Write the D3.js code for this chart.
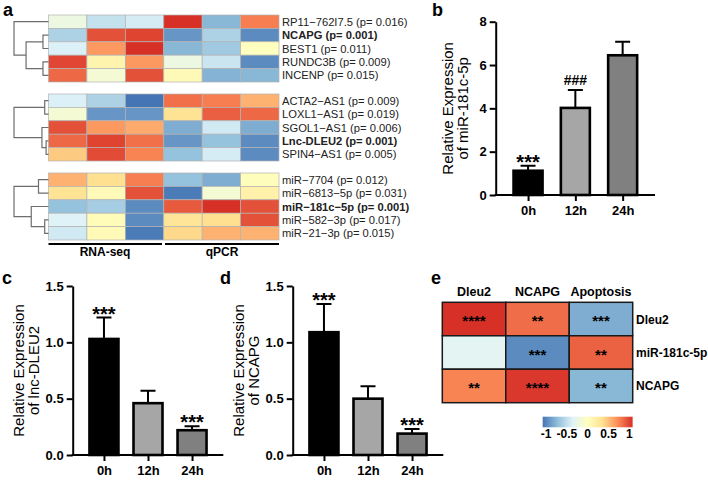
<!DOCTYPE html>
<html>
<head>
<meta charset="utf-8">
<script src="https://cdn.jsdelivr.net/npm/d3@7/dist/d3.min.js"></script>
<style>
  body { margin: 0; background: #fff; }
  text { font-family: "Liberation Sans", Arial, sans-serif; }
</style>
</head>
<body>
<svg id="fig" width="708" height="484"></svg>
<script>
// ---------------- data ----------------
// panel a : three clustered heatmap blocks (3 RNA-seq + 3 qPCR columns)
var heatCols = ["r1", "r2", "r3", "q1", "q2", "q3"];

var mrnaLabels = ["RP11\u2212762I7.5 (p= 0.016)", "NCAPG (p= 0.001)", "BEST1 (p= 0.011)", "RUNDC3B (p= 0.009)", "INCENP (p= 0.015)"];
var mrnaBold = [false, true, false, false, false];
var mrnaValues = [
  [-0.2, -0.45, -0.38, 1.0, -0.7, 0.72],
  [-0.55, 0.88, 0.93, -0.85, -0.55, -0.9],
  [-0.35, 0.62, 1.0, -0.7, -0.6, 0.0],
  [0.92, 0.12, 0.62, -0.2, -0.42, -0.9],
  [0.8, -0.12, 0.88, 0.06, -0.72, -0.7]
];
var mrnaTree = [1.0, 0, [0.65, [0.16, 1, 2], [0.16, 3, 4]]];

var lncLabels = ["ACTA2\u2212AS1 (p= 0.009)", "LOXL1\u2212AS1 (p= 0.019)", "SGOL1\u2212AS1 (p= 0.006)", "Lnc-DLEU2 (p= 0.001)", "SPIN4\u2212AS1 (p= 0.005)"];
var lncBold = [false, false, false, true, false];
var lncValues = [
  [-0.35, -0.55, -1.0, 0.77, 0.72, 0.52],
  [-0.12, -0.85, -0.85, 0.3, 0.83, 0.8],
  [0.88, 0.62, 0.55, -0.75, -0.4, -0.75],
  [0.8, 0.93, 0.77, -0.85, -0.65, -0.9],
  [0.42, 0.9, 0.7, -0.65, -0.38, -0.9]
];
var lncTree = [1.0, [0.11, 0, 1], [0.19, 2, [0.07, 3, 4]]];

var mirLabels = ["miR\u22127704 (p= 0.012)", "miR\u22126813\u22125p (p= 0.031)", "miR\u2212181c\u22125p (p= 0.001)", "miR\u2212582\u22123p (p= 0.017)", "miR\u221221\u22123p (p= 0.015)"];
var mirBold = [false, false, true, false, false];
var mirValues = [
  [0.52, 0.33, 0.72, -0.65, -0.75, 0.02],
  [0.3, 0.05, 0.88, -0.97, -0.12, 0.15],
  [-0.65, -0.58, -0.9, 0.85, 1.0, 0.88],
  [-0.34, 0.04, -0.9, 0.28, 0.33, 0.88],
  [-0.4, 0.05, -0.97, 0.36, 0.52, 0.52]
];
var mirTree = [1.0, [0.29, 0, 1], [0.5, 2, [0.11, 3, 4]]];

// panels b, c, d : bar charts
var timeLabels = ["0h", "12h", "24h"];
var barFills = ["#000000", "#a6a6a6", "#808080"];

var mir181Mean = [1.12, 4.02, 6.45];
var mir181Err = [0.23, 0.83, 0.63];
var mir181Marks = ["***", "###", ""];

var dleu2Mean = [1.03, 0.46, 0.22];
var dleu2Err = [0.19, 0.11, 0.035];
var dleu2Marks = ["***", "", "***"];

var ncapgMean = [1.09, 0.5, 0.19];
var ncapgErr = [0.25, 0.11, 0.04];
var ncapgMarks = ["***", "", "***"];

// panel e : correlation heatmap
var corrRows = ["Dleu2", "miR-181c-5p", "NCAPG"];
var corrCols = ["Dleu2", "NCAPG", "Apoptosis"];
var corrValues = [
  [1.0, 0.78, -0.75],
  [-0.3, -0.9, 0.82],
  [0.7, 0.97, -0.7]
];
var corrStars = [
  ["****", "**", "***"],
  ["", "***", "**"],
  ["**", "****", "**"]
];
var legendTicks = [-1, -0.5, 0, 0.5, 1];

// ---------------- helpers ----------------
var svg = d3.select("#fig");
var palette = ["#4575b4", "#91bfdb", "#e0f3f8", "#ffffbf", "#fee090", "#fc8d59", "#d73027"];
var heatColor = d3.scaleLinear()
  .domain(d3.range(7).map(i => -1 + i / 3))
  .range(palette)
  .clamp(true);

function panelLetter(t, x, y) {
  svg.append("text").attr("x", x).attr("y", y)
    .attr("font-size", 18).attr("font-weight", "bold").text(t);
}

// ---------------- panel a ----------------
var colX = d3.scaleBand().domain(heatCols).range([48.5, 279]);
var treeX = d3.scaleLinear().domain([0, 1]).range([48.5, 14]);

function drawBlock(values, labels, bold, tree, top) {
  var rowY = d3.scaleBand().domain(d3.range(values.length)).range([top, top + 67]);
  var g = svg.append("g");

  values.forEach(function(row, i) {
    g.selectAll(null).data(row).enter().append("rect")
      .attr("x", (d, j) => colX(heatCols[j]))
      .attr("y", rowY(i))
      .attr("width", colX.bandwidth())
      .attr("height", rowY.bandwidth())
      .attr("fill", d => heatColor(d))
      .attr("stroke", "#b3b3b3")
      .attr("stroke-width", 0.7);
  });

  g.selectAll(".rl").data(labels).enter().append("text")
    .attr("x", 282)
    .attr("y", (d, i) => rowY(i) + rowY.bandwidth() / 2 + 4)
    .attr("font-size", 11.2)
    .attr("font-weight", (d, i) => bold[i] ? "bold" : "normal")
    .attr("fill", "#222")
    .text(d => d);

  // dendrogram - returns [x, y] of node
  function walk(node) {
    if (typeof node === "number") {
      return [treeX(0), rowY(node) + rowY.bandwidth() / 2];
    }
    var a = walk(node[1]), b = walk(node[2]);
    var x = treeX(node[0]);
    var path = "M" + a[0] + "," + a[1] + "H" + x + "V" + b[1] + "H" + b[0];
    g.append("path").attr("d", path).attr("fill", "none")
      .attr("stroke", "#6e6e6e").attr("stroke-width", 1.2);
    return [x, (a[1] + b[1]) / 2];
  }
  walk(tree);
}

drawBlock(mrnaValues, mrnaLabels, mrnaBold, mrnaTree, 15);
drawBlock(lncValues, lncLabels, lncBold, lncTree, 94);
drawBlock(mirValues, mirLabels, mirBold, mirTree, 173);

svg.append("line").attr("x1", 48.5).attr("x2", 162).attr("y1", 244).attr("y2", 244)
  .attr("stroke", "#000").attr("stroke-width", 2);
svg.append("line").attr("x1", 165).attr("x2", 279).attr("y1", 244).attr("y2", 244)
  .attr("stroke", "#000").attr("stroke-width", 2);
svg.append("text").attr("x", 105).attr("y", 256).attr("text-anchor", "middle")
  .attr("font-size", 12).attr("font-weight", "bold").text("RNA-seq");
svg.append("text").attr("x", 222).attr("y", 256).attr("text-anchor", "middle")
  .attr("font-size", 12).attr("font-weight", "bold").text("qPCR");

panelLetter("a", 3, 16);

// ---------------- bar charts ----------------
function barChart(opt) {
  var g = svg.append("g");
  var x = d3.scalePoint().domain(timeLabels).range([opt.x0, opt.x1]).padding(opt.pad);
  var y = d3.scaleLinear().domain([0, opt.ymax]).range([opt.y0, opt.y1]);
  var bw = 29;

  var yAxis = g.append("g").attr("transform", `translate(${opt.x0},0)`)
    .call(d3.axisLeft(y).tickValues(opt.ticks).tickFormat(opt.fmt).tickSize(6).tickSizeOuter(0));
  var xAxis = g.append("g").attr("transform", `translate(0,${opt.y0})`)
    .call(d3.axisBottom(x).tickSize(6).tickSizeOuter(0));
  [yAxis, xAxis].forEach(function(ax) {
    ax.selectAll("path, line").attr("stroke", "#000").attr("stroke-width", 2);
    ax.selectAll("text").attr("font-size", 13).attr("font-weight", "bold")
      .attr("font-family", "Liberation Sans, Arial, sans-serif").attr("fill", "#000");
  });
  xAxis.select(".domain").attr("d", `M${opt.x0 - 1},0H${opt.x1}`);
  xAxis.selectAll("text").attr("dy", "0.85em");

  // error bars (upper only)
  g.selectAll(".err").data(opt.mean).enter().append("path")
    .attr("d", (d, i) => {
      var cx = x(timeLabels[i]), top = y(d + opt.err[i]);
      return "M" + cx + "," + y(d) + "V" + top + "M" + (cx - 7.5) + "," + top + "H" + (cx + 7.5);
    })
    .attr("stroke", "#000").attr("stroke-width", 2).attr("fill", "none");

  g.selectAll(".bar").data(opt.mean).enter().append("rect")
    .attr("x", (d, i) => x(timeLabels[i]) - bw / 2)
    .attr("y", d => y(d))
    .attr("width", bw)
    .attr("height", d => opt.y0 - y(d))
    .attr("fill", (d, i) => barFills[i])
    .attr("stroke", "#000").attr("stroke-width", 2.6);

  g.selectAll(".mark").data(opt.marks).enter().append("text")
    .attr("x", (d, i) => x(timeLabels[i]))
    .attr("y", (d, i) => {
      var top = y(opt.mean[i] + opt.err[i]);
      return d.charAt(0) === "#" ? top - 5 : top + 3;
    })
    .attr("text-anchor", "middle")
    .attr("font-weight", "bold")
    .attr("font-size", d => d.charAt(0) === "#" ? 14 : 20)
    .text(d => d);

  var mid = (opt.y0 + opt.y1) / 2;
  opt.title.forEach(function(t, k) {
    g.append("text")
      .attr("transform", `translate(${opt.x0 - opt.titleOff[k]},${mid}) rotate(-90)`)
      .attr("text-anchor", "middle")
      .attr("font-size", 15)
      .text(t);
  });
}

barChart({
  x0: 495.7, x1: 655, pad: 0.684, y0: 195, y1: 21.7, ymax: 8,
  ticks: [0, 2, 4, 6, 8], fmt: d3.format("d"),
  mean: mir181Mean, err: mir181Err, marks: mir181Marks,
  title: ["Relative Expression", "of miR-181c-5p"], titleOff: [43, 27.5]
});
panelLetter("b", 432, 16);

barChart({
  x0: 72.7, x1: 223.3, pad: 0.71, y0: 455, y1: 286, ymax: 1.5,
  ticks: [0, 0.5, 1, 1.5], fmt: d3.format(".1f"),
  mean: dleu2Mean, err: dleu2Err, marks: dleu2Marks,
  title: ["Relative Expression", "of lnc-DLEU2"], titleOff: [49, 34]
});
panelLetter("c", 2, 284);

barChart({
  x0: 292.7, x1: 443.3, pad: 0.71, y0: 455, y1: 286, ymax: 1.5,
  ticks: [0, 0.5, 1, 1.5], fmt: d3.format(".1f"),
  mean: ncapgMean, err: ncapgErr, marks: ncapgMarks,
  title: ["Relative Expression", "of NCAPG"], titleOff: [49, 34]
});
panelLetter("d", 220, 284);

// ---------------- panel e ----------------
var ex = d3.scaleBand().domain(corrCols).range([442.3, 632.7]);
var ey = d3.scaleBand().domain(corrRows).range([302.3, 402.7]);
var eg = svg.append("g");

corrValues.forEach(function(row, i) {
  eg.selectAll(null).data(row).enter().append("rect")
    .attr("x", (d, j) => ex(corrCols[j]))
    .attr("y", ey(corrRows[i]))
    .attr("width", ex.bandwidth())
    .attr("height", ey.bandwidth())
    .attr("fill", d => heatColor(d))
    .attr("stroke", "#1a1a1a").attr("stroke-width", 1.5);
  eg.selectAll(null).data(corrStars[i]).enter().append("text")
    .attr("x", (d, j) => ex(corrCols[j]) + ex.bandwidth() / 2)
    .attr("y", ey(corrRows[i]) + ey.bandwidth() / 2 + 7)
    .attr("text-anchor", "middle")
    .attr("font-size", 15).attr("font-weight", "bold")
    .text(d => d);
});

eg.selectAll(".ch").data(corrCols).enter().append("text")
  .attr("x", d => ex(d) + ex.bandwidth() / 2)
  .attr("y", 296)
  .attr("text-anchor", "middle")
  .attr("font-size", 12.5).attr("font-weight", "bold")
  .text(d => d);

eg.selectAll(".rh").data(corrRows).enter().append("text")
  .attr("x", 636)
  .attr("y", d => ey(d) + ey.bandwidth() / 2 + 4.5)
  .attr("font-size", 12).attr("font-weight", "bold")
  .text(d => d);

// colour bar
var legX = d3.scaleLinear().domain([-1, 1]).range([546, 629.3]);
var grad = svg.append("defs").append("linearGradient").attr("id", "corrGrad");
palette.forEach(function(c, i) {
  grad.append("stop").attr("offset", (i / 6 * 100) + "%").attr("stop-color", c);
});
eg.append("rect")
  .attr("x", legX(-1.08)).attr("y", 416.7)
  .attr("width", legX(1.08) - legX(-1.08)).attr("height", 10.6)
  .attr("fill", "url(#corrGrad)");
eg.selectAll(".lt").data(legendTicks).enter().append("text")
  .attr("x", d => legX(d))
  .attr("y", 438)
  .attr("text-anchor", "middle")
  .attr("font-size", 12).attr("font-weight", "bold")
  .text(d => d);

panelLetter("e", 431, 284);
</script>
</body>
</html>
